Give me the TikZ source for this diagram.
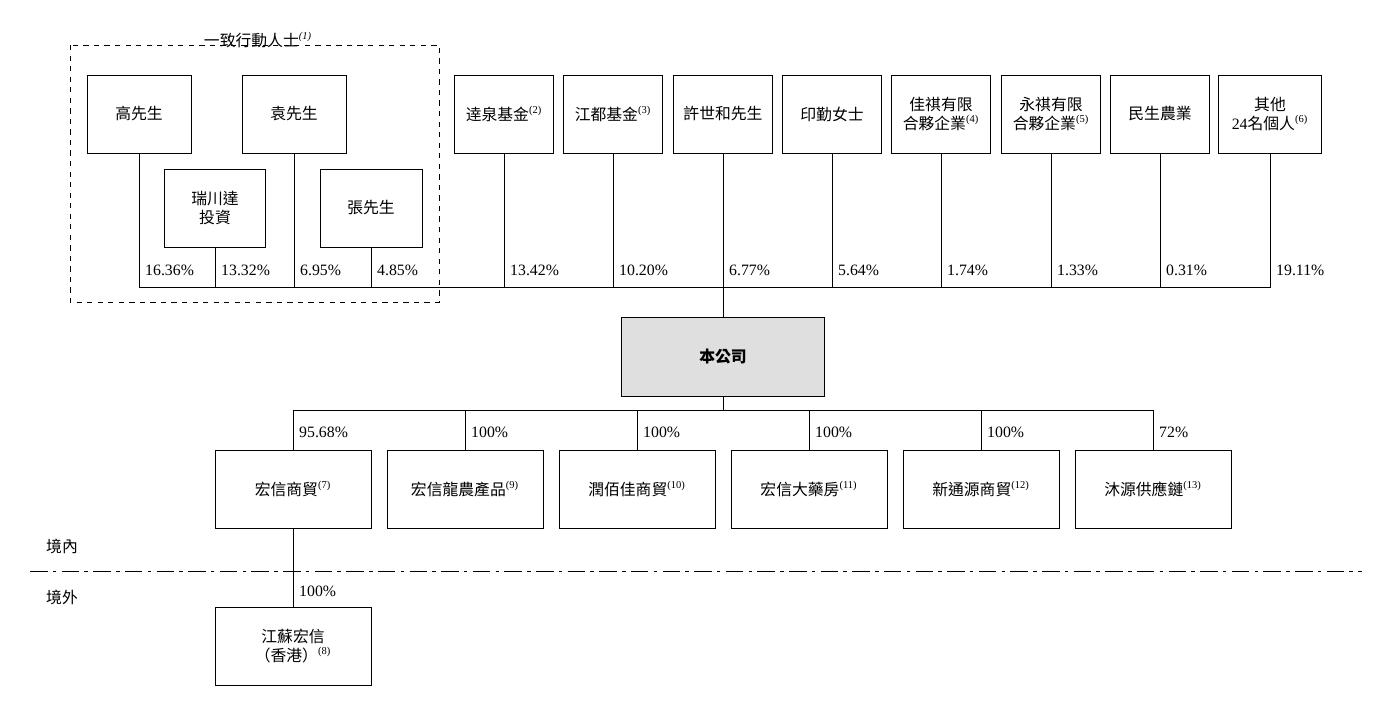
\documentclass[tikz,border=0pt]{standalone}
\usepackage{fontspec}
\setmainfont{Liberation Serif}
\newfontfamily\cjk{Noto Sans CJK TC}
\usetikzlibrary{positioning}
\tikzset{
    holder/.style={draw, align=center, minimum width=1.98cm, minimum height=1.56cm, inner sep=1pt, font=\cjk\small},
    sub/.style={draw, align=center, minimum width=3.12cm, minimum height=1.56cm, font=\cjk\small},
    pct/.style={anchor=west, font=\small},
    sm/.style={font=\tiny}
}
\newcommand{\nt}[1]{\textsuperscript{\rmfamily(#1)}}
\begin{document}
\begin{tikzpicture}[x=0.02cm, y=-0.02cm]
        \useasboundingbox (0,0) rectangle (1376,720);
        % concert parties
        \draw[dashed] (70,45) rectangle (439,302);
        \path (258,40) node[font=\cjk\small\itshape] (grp) {一致行動人士\nt{1}};
        \path (139,114) node[holder, minimum width=2.08cm] (gao) {高先生};
        \path (294,114) node[holder, minimum width=2.08cm] (yuan) {袁先生};
        \path (215,208) node[holder, minimum width=2.02cm] (rc) {瑞川達\\投資};
        \path (371,208) node[holder, minimum width=2.04cm] (zhang) {張先生};
        % other shareholders
        \path (504,114)  node[holder] (s1) {逹泉基金\nt{2}};
        \path (613,114)  node[holder] (s2) {江都基金\nt{3}};
        \path (723,114)  node[holder] (s3) {許世和先生};
        \path (832,114)  node[holder] (s4) {印勤女士};
        \path (941,114)  node[holder] (s5) {佳祺有限\\合夥企業\nt{4}};
        \path (1051,114) node[holder] (s6) {永祺有限\\合夥企業\nt{5}};
        \path (1160,114) node[holder] (s7) {民生農業};
        \path (1270,114) node[holder, minimum width=2.06cm] (s8) {其他\\\rmfamily 24\cjk 名個人\nt{6}};
        % company
        \path (723,357) node[draw, fill=gray!25, minimum width=4.06cm, minimum height=1.58cm, font=\cjk\small\bfseries] (co) {本公司};
        \coordinate (bus) at (723,287);
        \coordinate (sbus) at (723,410);
        % subsidiaries
        \path (293,489)  node[sub] (c1) {宏信商貿\nt{7}};
        \path (465,489)  node[sub] (c2) {宏信龍農產品\nt{9}};
        \path (637,489)  node[sub] (c3) {潤佰佳商貿\nt{10}};
        \path (809,489)  node[sub] (c4) {宏信大藥房\nt{11}};
        \path (981,489)  node[sub] (c5) {新通源商貿\nt{12}};
        \path (1153,489) node[sub] (c6) {沐源供應鏈\nt{13}};
        \path (293,646)  node[sub] (hk) {江蘇宏信\\（香港）\nt{8}};

        \draw (gao.south) |- (bus);
        \draw (rc.south) -- (rc.south |- bus);
        \draw (yuan.south) -- (yuan.south |- bus);
        \draw (zhang.south) -- (zhang.south |- bus);
        \draw (s8.south) |- (bus);
        \foreach \n in {s1,s2,s3,s4,s5,s6,s7}
            \draw (\n.south) -- (\n.south |- bus);
        \draw (bus) -- (co.north);
        \draw (co.south) -- (sbus);
        \draw (c1.north) |- (sbus);
        \draw (c6.north) |- (sbus);
        \foreach \n in {c2,c3,c4,c5}
            \draw (\n.north) -- (\n.north |- sbus);
        \draw (c1.south) -- (hk.north);

        \path (gao.south |- 0,270)  node[pct] (p1) {16.36\%};
        \path (rc.south |- 0,270)   node[pct] (p2) {13.32\%};
        \path (yuan.south |- 0,270) node[pct] (p3) {6.95\%};
        \path (zhang.south |- 0,270) node[pct] (p4) {4.85\%};
        \foreach \n/\v in {s1/13.42,s2/10.20,s3/6.77,s4/5.64,s5/1.74,s6/1.33,s7/0.31,s8/19.11}
            \path (\n.south |- 0,270) node[pct] {\v\%};
        \foreach \n/\v in {c1/95.68,c2/100,c3/100,c4/100,c5/100,c6/72}
            \path (\n.north |- 0,432) node[pct] {\v\%};
        \path (hk.north |- 0,591) node[pct] (p5) {100\%};

        \draw[dash pattern=on 10pt off 3pt on 2pt off 3pt] (30,571) coordinate (l) -- (1362,571) coordinate (r);
        \path (62,546) node[font=\cjk\small] (in) {境內};
        \path (62,597) node[font=\cjk\small] (out) {境外};
    \end{tikzpicture}
\end{document}
